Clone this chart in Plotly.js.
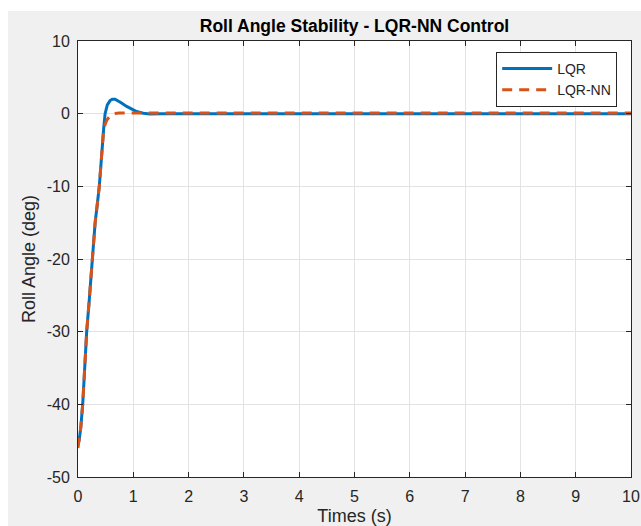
<!DOCTYPE html>
<html>
<head>
<meta charset="utf-8">
<script src="https://cdn.plot.ly/plotly-3.0.1.min.js"></script>
<style>
html,body{margin:0;padding:0;background:#ffffff;width:641px;height:526px;overflow:hidden;}
#chart{position:absolute;left:8px;top:11px;width:633px;height:515px;}
</style>
</head>
<body>
<div id="chart"></div>
<script>
// LQR response (time in s, roll angle in deg)
const lqrTime = [0, 0.02, 0.05, 0.085, 0.12, 0.157, 0.2, 0.23, 0.27, 0.31, 0.35, 0.385, 0.42, 0.44, 0.465, 0.49, 0.53, 0.58, 0.62, 0.67, 0.72, 0.78, 0.88, 0.97, 1.06, 1.18, 1.3, 1.5, 2, 3, 4, 5, 6, 7, 8, 9, 10];
const lqrAngle = [-45.3, -45.0, -43.2, -40.0, -35.2, -30.0, -26.0, -23.0, -19.0, -15.0, -12.4, -10.0, -6.5, -4.2, -2.0, 0.0, 1.2, 1.8, 2.0, 2.0, 1.8, 1.5, 1.0, 0.6, 0.3, 0.05, -0.03, 0, 0, 0, 0, 0, 0, 0, 0, 0, 0];

// LQR-NN response
const nnTime = [0, 0.02, 0.05, 0.085, 0.12, 0.157, 0.2, 0.23, 0.27, 0.31, 0.35, 0.385, 0.42, 0.44, 0.46, 0.49, 0.52, 0.58, 0.65, 0.75, 0.9, 1.2, 2, 3, 4, 5, 6, 7, 8, 9, 10];
const nnAngle = [-46.0, -45.0, -43.2, -40.0, -35.2, -30.0, -26.0, -23.0, -19.0, -15.0, -12.4, -10.0, -6.5, -4.2, -2.5, -1.5, -0.9, -0.3, 0.0, 0.1, 0.1, 0.1, 0.1, 0.1, 0.1, 0.1, 0.1, 0.1, 0.1, 0.1, 0.1];

const xTicks = [0, 1, 2, 3, 4, 5, 6, 7, 8, 9, 10];
const yTicks = [-50, -40, -30, -20, -10, 0, 10];
const seriesNames = ["LQR", "LQR-NN"];

const font = "Liberation Sans, Arial, Helvetica, sans-serif";
const axisColor = "#262626";

const traces = [
  {
    x: lqrTime, y: lqrAngle, type: "scatter", mode: "lines", name: seriesNames[0],
    line: {color: "#0072BD", width: 3}
  },
  {
    x: nnTime, y: nnAngle, type: "scatter", mode: "lines", name: seriesNames[1],
    line: {color: "#D95319", width: 3, dash: "10px,7px"}
  }
];

const axisCommon = {
  showline: true, linecolor: axisColor, linewidth: 1, mirror: "ticks",
  ticks: "inside", ticklen: 5, tickcolor: axisColor, tickwidth: 1,
  showgrid: true, gridcolor: "#e3e3e3", gridwidth: 1, zeroline: false,
  tickfont: {family: font, size: 16, color: axisColor}
};

const layout = {
  width: 633, height: 515,
  margin: {l: 70, r: 10, t: 30, b: 49},
  paper_bgcolor: "#f0f0f0",
  plot_bgcolor: "#ffffff",
  showlegend: true,
  title: {
    text: "<b>Roll Angle Stability - LQR-NN Control</b>",
    font: {family: font, size: 17.5, color: "#000000"},
    x: 0.5, xref: "paper", xanchor: "center",
    y: 1, yref: "paper", yanchor: "bottom", pad: {b: 9}
  },
  xaxis: Object.assign({}, axisCommon, {
    range: [0, 10], tickmode: "array", tickvals: xTicks, ticktext: xTicks.map(String),
    ticklabelstandoff: 5,
    title: {text: "Times (s)", font: {family: font, size: 18, color: axisColor}, standoff: 12}
  }),
  yaxis: Object.assign({}, axisCommon, {
    range: [-50, 10], tickmode: "array", tickvals: yTicks, ticktext: yTicks.map(String),
    ticklabelstandoff: 4,
    title: {text: "Roll Angle (deg)", font: {family: font, size: 18, color: axisColor}, standoff: 6}
  }),
  legend: {
    x: 0.975, xanchor: "right", y: 0.975, yanchor: "top",
    bgcolor: "#ffffff", bordercolor: axisColor, borderwidth: 1,
    font: {family: font, size: 14, color: axisColor},
    itemwidth: 50, tracegroupgap: 0
  }
};

Plotly.newPlot("chart", traces, layout, {displayModeBar: false, staticPlot: true});
</script>
</body>
</html>
